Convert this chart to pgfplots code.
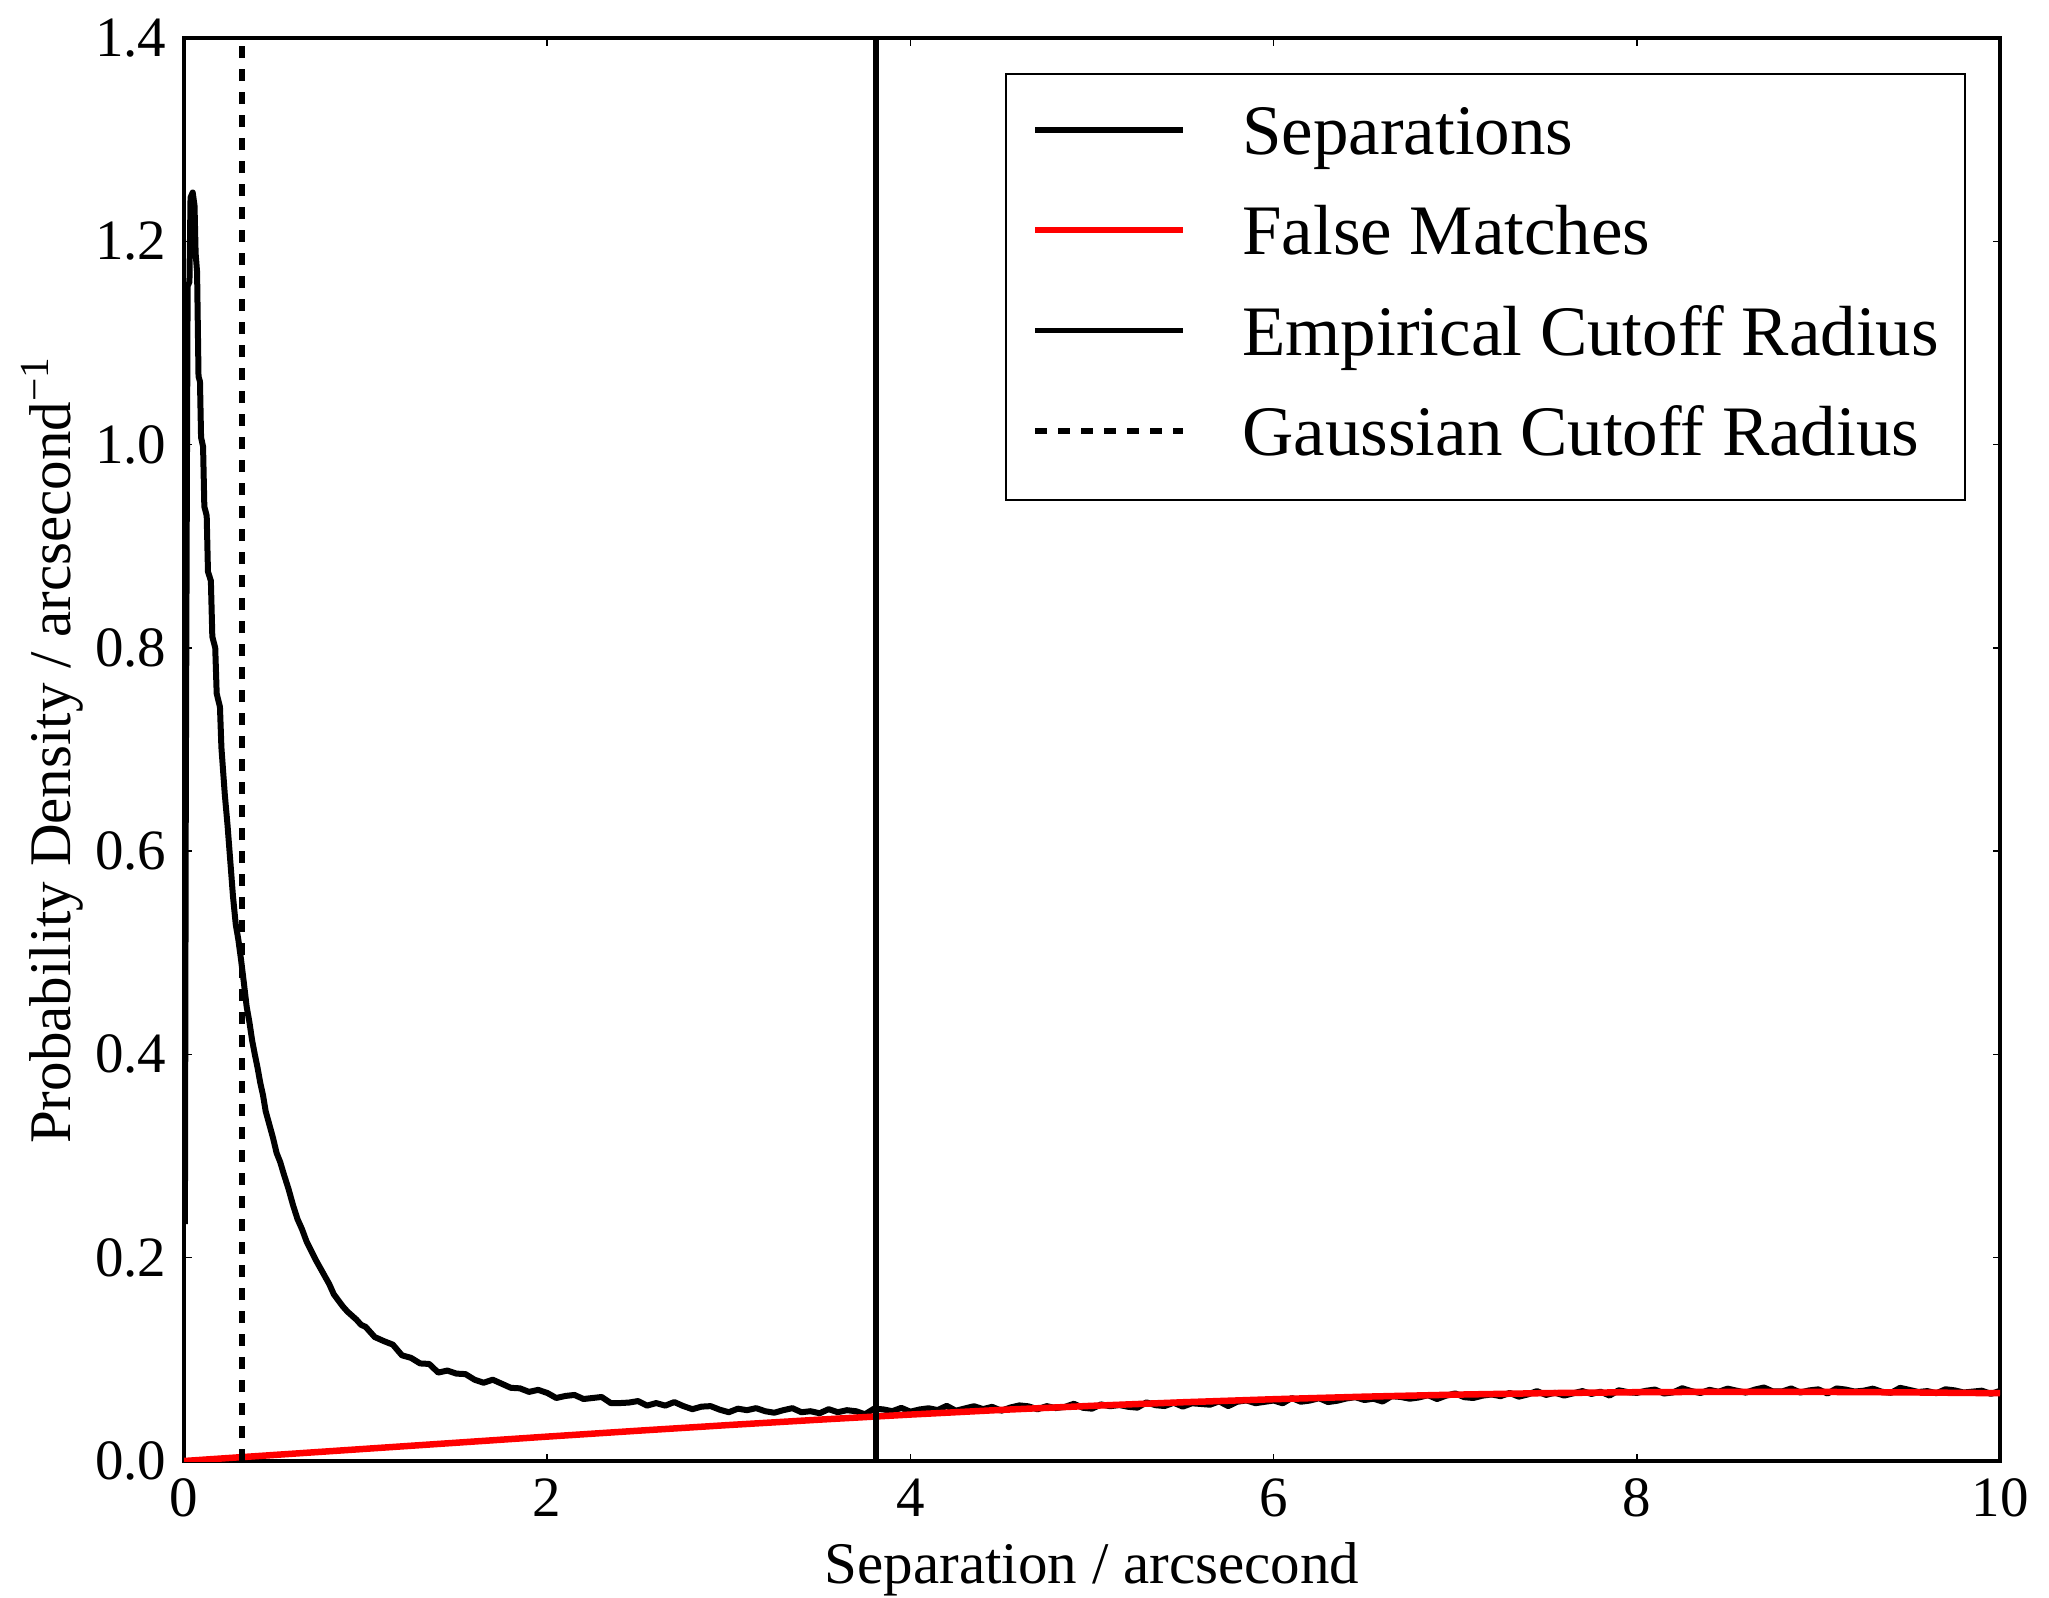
\documentclass[border=0pt]{standalone}
\usepackage{fontspec}
\setmainfont{Liberation Serif}
\usepackage{pgfplots}
\pgfplotsset{compat=1.18}
\begin{document}
\begin{tikzpicture}
\path[use as bounding box] (0,0) rectangle (409.8pt,319.4pt);
\begin{axis}[
  at={(36.8pt,27.2pt)}, anchor=south west,
  scale only axis, width=363.2pt, height=284.6pt,
  xmin=0, xmax=10, ymin=0, ymax=1.4,
  xtick={0,2,4,6,8,10},
  ytick={0,0.2,0.4,0.6,0.8,1.0,1.2,1.4},
  /pgf/number format/assume math mode=true,
  yticklabel style={/pgf/number format/.cd,fixed,fixed zerofill,precision=1},
  tick align=inside, major tick length=1.5pt,
  tick style={line width=0.3pt, black},
  axis line style={line width=0.8pt},
  ticklabel style={font=\fontsize{11.4}{13}\selectfont},
  label style={font=\fontsize{11.8}{14}\selectfont},
  xlabel={Separation / arcsecond},
  ylabel={Probability Density / arcsecond\textsuperscript{−1}},
  xlabel style={at={(axis description cs:0.5,0)}, anchor=north, yshift=-12.8pt},
  ylabel style={at={(axis description cs:-0.0457,0.5)}, anchor=south, rotate=0},
  legend style={at={(axis description cs:0.9813,0.9754)}, anchor=north east,
    draw=black, line width=0.4pt, inner xsep=5.2pt, inner ysep=2.35pt,
    font=\fontsize{14.2}{17}\selectfont, cells={anchor=west},
    nodes={inner sep=0pt, text height=13.65pt, text depth=6.45pt},
    column sep=11.2pt, row sep=0pt},
  legend image code/.code={\draw[#1] (0pt,1.3pt) -- (29.6pt,1.3pt);},
]
\addplot[black, line width=1.2pt, line join=round] coordinates {
(0.005,0.233) (0.010,0.660) (0.016,0.969) (0.020,1.156) (0.030,1.160) (0.036,1.243) (0.048,1.248) (0.058,1.235) (0.064,1.188) (0.072,1.170) (0.080,1.067) (0.088,1.062) (0.094,1.007) (0.105,0.998) (0.112,0.939) (0.125,0.930) (0.132,0.875) (0.148,0.866) (0.156,0.811) (0.172,0.800) (0.180,0.755) (0.198,0.742) (0.206,0.702) (0.225,0.655) (0.240,0.625) (0.255,0.590) (0.270,0.555) (0.285,0.528) (0.300,0.512) (0.315,0.492) (0.330,0.470) (0.345,0.447) (0.360,0.432) (0.375,0.414) (0.390,0.400) (0.405,0.387) (0.420,0.372) (0.435,0.360) (0.450,0.344) (0.470,0.331) (0.490,0.318) (0.510,0.303) (0.530,0.294) (0.550,0.282) (0.575,0.268) (0.600,0.252) (0.625,0.238) (0.650,0.228) (0.675,0.216) (0.700,0.207) (0.725,0.198) (0.750,0.190) (0.775,0.182) (0.800,0.174) (0.825,0.164) (0.850,0.158) (0.875,0.152) (0.900,0.147) (0.925,0.143) (0.950,0.139) (0.975,0.134)
(1.00,0.132) (1.05,0.122) (1.10,0.118) (1.15,0.1145) (1.20,0.104) (1.25,0.1015) (1.30,0.096) (1.35,0.0955) (1.40,0.087) (1.45,0.089) (1.50,0.086) (1.55,0.0855) (1.60,0.080) (1.65,0.077) (1.70,0.080) (1.75,0.076) (1.80,0.072) (1.85,0.0715) (1.90,0.068) (1.95,0.070)
(2.00,0.067) (2.05,0.062) (2.10,0.064) (2.15,0.065) (2.20,0.061) (2.25,0.062) (2.30,0.063) (2.35,0.057) (2.40,0.057) (2.45,0.0575) (2.50,0.059) (2.55,0.0545) (2.60,0.057) (2.65,0.0545) (2.70,0.058) (2.75,0.054) (2.80,0.051) (2.85,0.0535) (2.90,0.054) (2.95,0.0505)
(3.00,0.048) (3.05,0.0515) (3.10,0.050) (3.15,0.052) (3.20,0.049) (3.25,0.0475) (3.30,0.050) (3.35,0.052) (3.40,0.048) (3.45,0.049) (3.50,0.047) (3.55,0.051) (3.60,0.048) (3.65,0.050) (3.70,0.049) (3.75,0.046) (3.80,0.0515) (3.85,0.0508) (3.90,0.049) (3.95,0.0523)
(4.00,0.0485) (4.05,0.0507) (4.10,0.0519) (4.15,0.0501) (4.20,0.0543) (4.25,0.0495) (4.30,0.0517) (4.35,0.0539) (4.40,0.0511) (4.45,0.0533) (4.50,0.0495) (4.55,0.0526) (4.60,0.0547) (4.65,0.0538) (4.70,0.0509) (4.75,0.0540) (4.80,0.0521) (4.85,0.0532) (4.90,0.0563) (4.95,0.0524)
(5.00,0.0515) (5.05,0.0557) (5.10,0.0539) (5.15,0.0551) (5.20,0.0533) (5.25,0.0525) (5.30,0.0577) (5.35,0.0549) (5.40,0.0541) (5.45,0.0573) (5.50,0.0535) (5.55,0.0568) (5.60,0.0561) (5.65,0.0554) (5.70,0.0587) (5.75,0.0540) (5.80,0.0583) (5.85,0.0596) (5.90,0.0569) (5.95,0.0582)
(6.00,0.0595) (6.05,0.0568) (6.10,0.0620) (6.15,0.0583) (6.20,0.0595) (6.25,0.0618) (6.30,0.0580) (6.35,0.0593) (6.40,0.0615) (6.45,0.0628) (6.50,0.0600) (6.55,0.0613) (6.60,0.0585) (6.65,0.0638) (6.70,0.0630) (6.75,0.0613) (6.80,0.0625) (6.85,0.0648) (6.90,0.0610) (6.95,0.0643)
(7.00,0.0665) (7.05,0.0628) (7.10,0.0620) (7.15,0.0643) (7.20,0.0655) (7.25,0.0638) (7.30,0.0670) (7.35,0.0633) (7.40,0.0655) (7.45,0.0688) (7.50,0.0650) (7.55,0.0672) (7.60,0.0644) (7.65,0.0666) (7.70,0.0688) (7.75,0.0660) (7.80,0.0682) (7.85,0.0644) (7.90,0.0696) (7.95,0.0678)
(8.00,0.0670) (8.05,0.0691) (8.10,0.0703) (8.15,0.0664) (8.20,0.0675) (8.25,0.0716) (8.30,0.0688) (8.35,0.0669) (8.40,0.0700) (8.45,0.0681) (8.50,0.0712) (8.55,0.0692) (8.60,0.0673) (8.65,0.0703) (8.70,0.0723) (8.75,0.0684) (8.80,0.0684) (8.85,0.0714) (8.90,0.0674) (8.95,0.0695)
(9.00,0.0705) (9.05,0.0664) (9.10,0.0714) (9.15,0.0703) (9.20,0.0683) (9.25,0.0692) (9.30,0.0712) (9.35,0.0681) (9.40,0.0671) (9.45,0.0720) (9.50,0.0700) (9.55,0.0679) (9.60,0.0688) (9.65,0.0667) (9.70,0.0706) (9.75,0.0695) (9.80,0.0674) (9.85,0.0683) (9.90,0.0692) (9.95,0.0661) (10.00,0.0690)
};
\addlegendentry{Separations}
\addplot[red, line width=1.3pt] coordinates {
(0,0) (0.5,0.0060) (1,0.0120) (1.5,0.0180) (2,0.0240) (2.5,0.0298) (3,0.0354) (3.5,0.0407) (4,0.0457) (4.5,0.0503) (5,0.0543) (5.5,0.0578) (6,0.0608) (6.5,0.0633) (7,0.0653) (7.5,0.0668) (8,0.0677) (8.5,0.0681) (9,0.0680) (9.5,0.0675) (10,0.0667)
};
\addlegendentry{False Matches}
\addplot[black, line width=1.1pt] coordinates {(3.81,0) (3.81,1.4)};
\addlegendentry{Empirical Cutoff Radius}
\addplot[black, line width=1.1pt, dash pattern=on 2.4pt off 2.2pt] coordinates {(0.32,0) (0.32,1.4)};
\addlegendentry{Gaussian Cutoff Radius}
\end{axis}
\end{tikzpicture}
\end{document}
